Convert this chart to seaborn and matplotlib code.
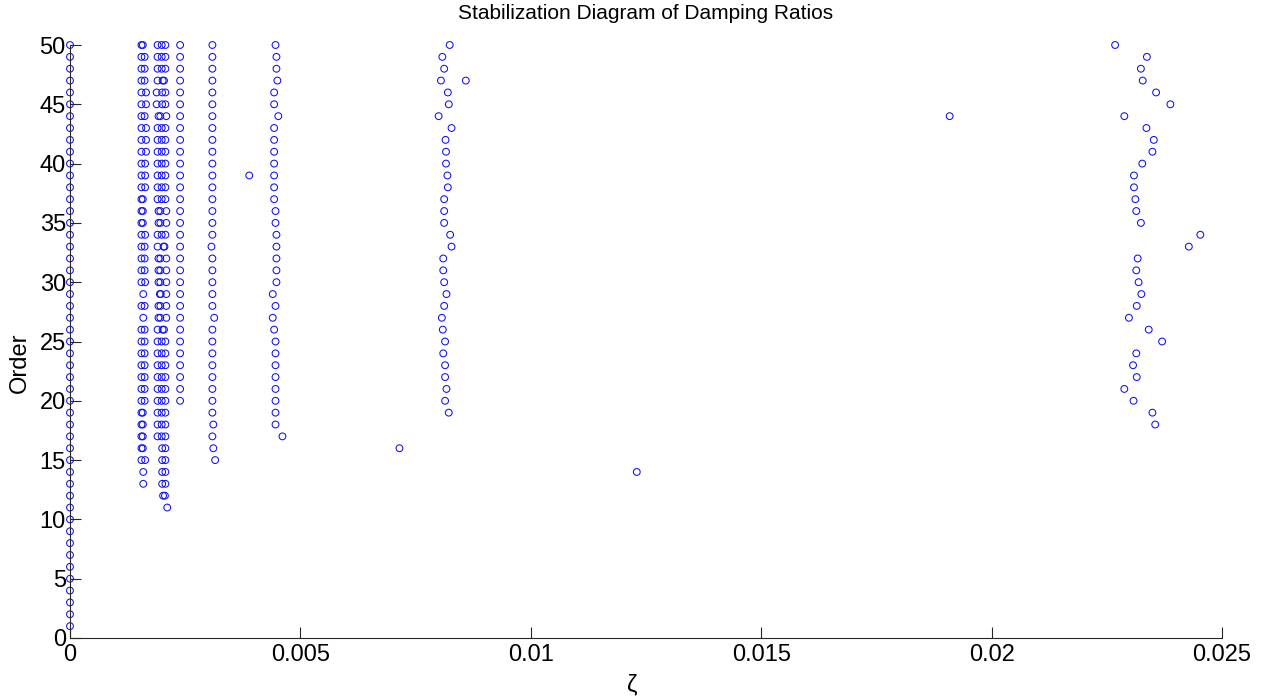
import matplotlib
matplotlib.use("Agg")
import matplotlib.pyplot as plt
import seaborn as sns
import pandas as pd

# ---------------- data ----------------
# column at zeta ~ 0
orders_c0 = [50, 49, 48, 47, 46, 45, 44, 43, 42, 41, 40, 39, 38, 37, 36, 35, 34, 33, 32, 31,
             30, 29, 28, 27, 26, 25, 24, 23, 22, 21, 20, 19, 18, 17, 16, 15, 14, 13, 12, 11,
             10, 9, 8, 7, 6, 5, 4, 3, 2, 1]
zeta_c0 = [0.0, 0.0, 0.0, 0.0, 0.0, 0.0, 0.0, 0.0, 0.0, 0.0, 0.0, 0.0, 0.0, 0.0, 0.0, 0.0, 0.0,
           0.0, 0.0, 0.0, 0.0, 0.0, 0.0, 0.0, 0.0, 0.0, 0.0, 0.0, 0.0, 0.0, 0.0, 0.0, 0.0, 0.0,
           0.0, 0.0, 0.0, 0.0, 0.0, 0.0, 0.0, 0.0, 0.0, 0.0, 0.0, 0.0, 0.0, 0.0, 0.0, 0.0]

# pair column ~0.0016 (first circle)
orders_pa = [50, 49, 48, 47, 46, 45, 44, 43, 42, 41, 40, 39, 38, 37, 36, 35, 34, 33, 32, 31,
             30, 29, 28, 27, 26, 25, 24, 23, 22, 21, 20, 19, 18, 17, 16, 15, 14, 13]
zeta_pa = [0.00155, 0.00155, 0.00155, 0.00155, 0.00155, 0.00155, 0.00155, 0.00155, 0.00155,
           0.00155, 0.00155, 0.00155, 0.00155, 0.00155, 0.00155, 0.00155, 0.00155, 0.00155,
           0.00155, 0.00155, 0.00155, 0.00159, 0.00155, 0.00159, 0.00155, 0.00155, 0.00155,
           0.00155, 0.00155, 0.00155, 0.00155, 0.00155, 0.00155, 0.00155, 0.00155, 0.00155,
           0.00159, 0.00159]
# pair column (second circle)
orders_pb = [50, 49, 48, 47, 46, 45, 44, 43, 42, 41, 40, 39, 38, 37, 36, 35, 34, 33, 32, 31,
             30, 28, 26, 25, 24, 23, 22, 21, 20, 19, 18, 17, 16, 15]
zeta_pb = [0.00158, 0.00162, 0.00162, 0.00162, 0.00165, 0.00165, 0.00162, 0.00165, 0.00165,
           0.00165, 0.00163, 0.00163, 0.00163, 0.00158, 0.00158, 0.00158, 0.00163, 0.00162,
           0.00162, 0.00162, 0.00163, 0.00162, 0.00162, 0.00162, 0.00162, 0.00162, 0.00162,
           0.00162, 0.00162, 0.00158, 0.00158, 0.00158, 0.00158, 0.00163]

# triple column ~0.002
orders_ta = [50, 49, 48, 47, 46, 45, 44, 43, 42, 41, 40, 39, 38, 37, 36, 35, 34, 33, 32, 31,
             30, 29, 28, 27, 26, 25, 24, 23, 22, 21, 20, 19, 18, 17]
zeta_ta = [0.00190, 0.00190, 0.00190, 0.00190, 0.00188, 0.00188, 0.00192, 0.00190, 0.00190,
           0.00190, 0.00190, 0.00190, 0.00190, 0.00190, 0.00192, 0.00192, 0.00190, 0.00190,
           0.00192, 0.00192, 0.00192, 0.00195, 0.00192, 0.00192, 0.00190, 0.00190, 0.00190,
           0.00190, 0.00190, 0.00190, 0.00190, 0.00190, 0.00190, 0.00190]
orders_tb = [50, 49, 48, 47, 46, 45, 44, 43, 42, 41, 40, 39, 38, 37, 36, 35, 34, 33, 32, 31,
             30, 29, 28, 27, 26, 25, 24, 23, 22, 21, 20, 19, 18, 17, 16, 15, 14, 13, 12]
zeta_tb = [0.00199, 0.00199, 0.00199, 0.00201, 0.00200, 0.00200, 0.00196, 0.00199, 0.00199,
           0.00199, 0.00199, 0.00199, 0.00199, 0.00199, 0.00196, 0.00196, 0.00199, 0.00203,
           0.00196, 0.00196, 0.00196, 0.00197, 0.00196, 0.00196, 0.00201, 0.00199, 0.00199,
           0.00199, 0.00199, 0.00199, 0.00199, 0.00199, 0.00199, 0.00199, 0.00200, 0.00200,
           0.00200, 0.00200, 0.00202]
orders_tc = [50, 49, 48, 47, 46, 45, 44, 43, 42, 41, 40, 39, 38, 37, 36, 35, 34, 33, 32, 31,
             30, 29, 28, 27, 26, 25, 24, 23, 22, 21, 20, 19, 18, 17, 16, 15, 14, 13, 12, 11]
zeta_tc = [0.00207, 0.00207, 0.00207, 0.00204, 0.00207, 0.00207, 0.00209, 0.00207, 0.00207,
           0.00207, 0.00207, 0.00207, 0.00207, 0.00207, 0.00209, 0.00209, 0.00207, 0.00205,
           0.00209, 0.00209, 0.00209, 0.00209, 0.00209, 0.00209, 0.00204, 0.00207, 0.00207,
           0.00207, 0.00207, 0.00207, 0.00207, 0.00207, 0.00207, 0.00207, 0.00207, 0.00207,
           0.00207, 0.00207, 0.00206, 0.00211]

# column ~0.0024
orders_d = [50, 49, 48, 47, 46, 45, 44, 43, 42, 41, 40, 39, 38, 37, 36, 35, 34, 33, 32, 31,
            30, 29, 28, 27, 26, 25, 24, 23, 22, 21, 20]
zeta_d = [0.00239, 0.00239, 0.00239, 0.00239, 0.00239, 0.00239, 0.00239, 0.00239, 0.00239,
          0.00239, 0.00239, 0.00239, 0.00239, 0.00239, 0.00239, 0.00239, 0.00239, 0.00239,
          0.00239, 0.00239, 0.00239, 0.00239, 0.00239, 0.00239, 0.00239, 0.00239, 0.00239,
          0.00239, 0.00239, 0.00239, 0.00239]

# column ~0.0031
orders_e = [50, 49, 48, 47, 46, 45, 44, 43, 42, 41, 40, 39, 38, 37, 36, 35, 34, 33, 32, 31,
            30, 29, 28, 27, 26, 25, 24, 23, 22, 21, 20, 19, 18, 17, 16, 15]
zeta_e = [0.00309, 0.00309, 0.00309, 0.00309, 0.00309, 0.00309, 0.00309, 0.00309, 0.00309,
          0.00309, 0.00309, 0.00309, 0.00309, 0.00309, 0.00309, 0.00309, 0.00309, 0.00307,
          0.00309, 0.00309, 0.00309, 0.00309, 0.00309, 0.00313, 0.00309, 0.00309, 0.00309,
          0.00309, 0.00309, 0.00309, 0.00309, 0.00309, 0.00311, 0.00309, 0.00311, 0.00315]

# column ~0.0045
orders_f = [50, 49, 48, 47, 46, 45, 44, 43, 42, 41, 40, 39, 38, 37, 36, 35, 34, 33, 32, 31,
            30, 29, 28, 27, 26, 25, 24, 23, 22, 21, 20, 19, 18, 17]
zeta_f = [0.00446, 0.00448, 0.00448, 0.00450, 0.00443, 0.00443, 0.00452, 0.00443, 0.00443,
          0.00443, 0.00443, 0.00443, 0.00443, 0.00443, 0.00446, 0.00446, 0.00448, 0.00448,
          0.00448, 0.00448, 0.00448, 0.00440, 0.00446, 0.00440, 0.00443, 0.00446, 0.00446,
          0.00446, 0.00446, 0.00446, 0.00446, 0.00446, 0.00446, 0.00461]

# column ~0.0081
orders_g = [50, 49, 48, 47, 46, 45, 44, 43, 42, 41, 40, 39, 38, 37, 36, 35, 34, 33, 32, 31,
            30, 29, 28, 27, 26, 25, 24, 23, 22, 21, 20, 19]
zeta_g = [0.00824, 0.00808, 0.00812, 0.00805, 0.00820, 0.00822, 0.00800, 0.00828, 0.00815,
          0.00816, 0.00816, 0.00819, 0.00820, 0.00812, 0.00812, 0.00812, 0.00825, 0.00828,
          0.00810, 0.00810, 0.00812, 0.00817, 0.00812, 0.00807, 0.00809, 0.00814, 0.00810,
          0.00814, 0.00814, 0.00817, 0.00814, 0.00822]

# column ~0.023
orders_h = [50, 49, 48, 47, 46, 45, 44, 43, 42, 41, 40, 39, 38, 37, 36, 35, 34, 33, 32, 31,
            30, 29, 28, 27, 26, 25, 24, 23, 22, 21, 20, 19, 18]
zeta_h = [0.02268, 0.02337, 0.02324, 0.02328, 0.02357, 0.02388, 0.02288, 0.02336, 0.02352,
          0.02349, 0.02327, 0.02309, 0.02309, 0.02312, 0.02314, 0.02324, 0.02453, 0.02428,
          0.02317, 0.02314, 0.02319, 0.02325, 0.02315, 0.02298, 0.02341, 0.02370, 0.02314,
          0.02307, 0.02315, 0.02288, 0.02308, 0.02349, 0.02355]

# isolated poles
orders_iso = [39, 47, 16, 14, 44]
zeta_iso = [0.00389, 0.00859, 0.00715, 0.01230, 0.01909]

x_ticks = [0, 0.005, 0.01, 0.015, 0.02, 0.025]
x_tick_labels = ["0", "0.005", "0.01", "0.015", "0.02", "0.025"]
y_ticks = [0, 5, 10, 15, 20, 25, 30, 35, 40, 45, 50]
y_tick_labels = ["0", "5", "10", "15", "20", "25", "30", "35", "40", "45", "50"]

# ---------------- build table ----------------
zeta_all = (zeta_c0 + zeta_pa + zeta_pb + zeta_ta + zeta_tb + zeta_tc + zeta_d + zeta_e
            + zeta_f + zeta_g + zeta_h + zeta_iso)
order_all = (orders_c0 + orders_pa + orders_pb + orders_ta + orders_tb + orders_tc + orders_d
             + orders_e + orders_f + orders_g + orders_h + orders_iso)
df = pd.DataFrame({"zeta": zeta_all, "order": order_all})

# ---------------- plot ----------------
sns.set_theme(style="white")
plt.rcParams["font.family"] = ["Liberation Sans", "DejaVu Sans"]

fig = plt.figure(figsize=(12.69, 6.98), dpi=100)
W, H = 1269, 698
ax = fig.add_axes([70 / W, 1 - 638 / H, (1222 - 70) / W, (638 - 45) / H])

sns.scatterplot(data=df, x="zeta", y="order", ax=ax, marker="o", s=24,
                facecolors="none", edgecolor="#1010F0", linewidth=0.75, clip_on=False,
                legend=False)

ax.set_xlim(0, 0.025)
ax.set_ylim(0, 50)
ax.set_xticks(x_ticks)
ax.set_xticklabels(x_tick_labels)
ax.set_yticks(y_ticks)
ax.set_yticklabels(y_tick_labels)

for side in ["top", "right"]:
    ax.spines[side].set_visible(False)
for side in ["left", "bottom"]:
    ax.spines[side].set_color("#262626")
    ax.spines[side].set_linewidth(0.8)

ax.tick_params(axis="both", direction="in", length=8, width=0.8, color="#262626",
               labelsize=17, labelcolor="black")
ax.tick_params(axis="x", pad=4, bottom=True)
ax.tick_params(axis="y", pad=3, left=True)

ax.set_title("Stabilization Diagram of Damping Ratios", fontsize=15, pad=19, color="black")
ax.set_xlabel("ζ", fontsize=17, color="black")
ax.set_ylabel("Order", fontsize=17, color="black")
ax.xaxis.set_label_coords((632 - 70) / 1152, -0.062)
ax.yaxis.set_label_coords(-0.034, 0.465)
ax.grid(False)

fig.savefig("out.png", dpi=100, facecolor="white")
